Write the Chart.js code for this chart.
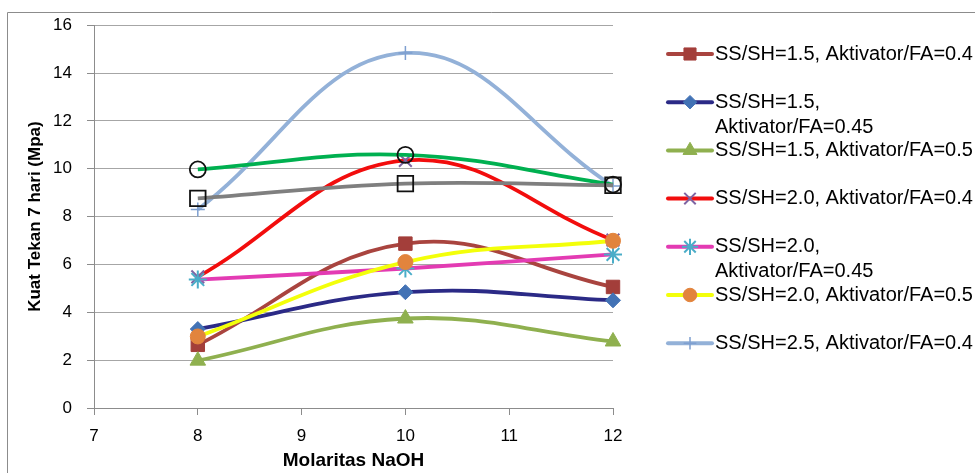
<!DOCTYPE html>
<html>
<head>
<meta charset="utf-8">
<title>Kuat Tekan 7 hari</title>
<script src="https://cdn.jsdelivr.net/npm/chart.js@4.4.0/dist/chart.umd.min.js"></script>
<style>
  body { margin: 0; background: #fff; }
  canvas { display: block; }
</style>
</head>
<body>
<canvas id="chart" width="975" height="473"></canvas>
<script>
"use strict";

// DATA

const molaritas = [8, 10, 12];
const xTicks = [7, 8, 9, 10, 11, 12];
const yTicks = [0, 2, 4, 6, 8, 10, 12, 14, 16];

const ss15_a040 = [2.64, 6.87, 5.06];
const ss15_a045 = [3.30, 4.84, 4.50];
const ss15_a050 = [1.98, 3.74, 2.78];
const ss20_a040 = [5.48, 10.35, 7.02];
const ss20_a045 = [5.37, 5.83, 6.42];
const ss20_a050 = [2.99, 6.10, 6.99];
const ss25_a040 = [8.30, 14.84, 9.28];
const extraGreen = [9.97, 10.58, 9.34];   // no legend entry
const extraGray = [8.76, 9.38, 9.31];     // no legend entry

const seriesNames = [
    ["SS/SH=1.5, Aktivator/FA=0.4"],
    ["SS/SH=1.5,", "Aktivator/FA=0.45"],
    ["SS/SH=1.5, Aktivator/FA=0.5"],
    ["SS/SH=2.0, Aktivator/FA=0.4"],
    ["SS/SH=2.0,", "Aktivator/FA=0.45"],
    ["SS/SH=2.0, Aktivator/FA=0.5"],
    ["SS/SH=2.5, Aktivator/FA=0.4"]
];

const FONT = "'Liberation Sans', Arial, sans-serif";

// DATASETS

let idx = 0;
const makeSet = (name, values, color, marker) => {
    const i = idx++;
    return {
        label: name ? name.join(" ") : "",
        legendLines: name,
        data: molaritas.map((m, k) => ({ x: m, y: values[k] })),
        borderColor: color,
        backgroundColor: color,
        borderWidth: 3.8,
        tension: 0.4,
        clip: false,
        order: 100 - i, // later series on top, like the original
        pointStyle: marker.style,
        pointRadius: marker.radius,
        pointBackgroundColor: marker.fill,
        pointBorderColor: marker.stroke,
        pointBorderWidth: marker.width
    };
};

const datasets = [
    makeSet(seriesNames[0], ss15_a040, "#A9443F", { style: "rect", radius: 9.5, fill: "#A33E3A", stroke: "#A33E3A", width: 1 }),
    makeSet(seriesNames[1], ss15_a045, "#2B2A86", { style: "rectRot", radius: 7.5, fill: "#4272B5", stroke: "#4272B5", width: 1 }),
    makeSet(seriesNames[2], ss15_a050, "#8FB04F", { style: "triangle", radius: 9, fill: "#8FB04F", stroke: "#8FB04F", width: 1 }),
    makeSet(seriesNames[3], ss20_a040, "#F20D0D", { style: "crossRot", radius: 9, fill: "#7E64A3", stroke: "#7E64A3", width: 2 }),
    makeSet(seriesNames[4], ss20_a045, "#E33BB3", { style: "star", radius: 9, fill: "#4AADC8", stroke: "#4AADC8", width: 2 }),
    makeSet(seriesNames[5], ss20_a050, "#F3FF0A", { style: "circle", radius: 7.5, fill: "#E2843D", stroke: "#E2843D", width: 1 }),
    makeSet(seriesNames[6], ss25_a040, "#93B1D8", { style: "cross", radius: 7, fill: "#7E9FD0", stroke: "#7E9FD0", width: 1.5 }),
    makeSet(null, extraGreen, "#00B050", { style: "circle", radius: 8, fill: "rgba(0,0,0,0)", stroke: "#111", width: 1.8 }),
    makeSet(null, extraGray, "#7F7F7F", { style: "rect", radius: 11, fill: "rgba(0,0,0,0)", stroke: "#111", width: 1.8 })
];

// PLUGINS

const frame = {
    id: "frame",
    beforeDraw(chart) {
        const ctx = chart.ctx;
        ctx.save();
        ctx.strokeStyle = "#8C8C8C";
        ctx.lineWidth = 1;
        ctx.beginPath();
        ctx.moveTo(7.5, chart.height);
        ctx.lineTo(7.5, 12.5);
        ctx.lineTo(chart.width, 12.5);
        ctx.stroke();
        ctx.restore();
    }
};

const sideLegend = {
    id: "sideLegend",
    afterDraw(chart) {
        const ctx = chart.ctx;
        let row = 0;
        chart.data.datasets.forEach(ds => {
            if (!ds.legendLines) return;
            const y = 54 + row * 48.2;
            ctx.save();
            ctx.strokeStyle = ds.borderColor;
            ctx.lineWidth = 4;
            ctx.lineCap = "round";
            ctx.beginPath();
            ctx.moveTo(668, y);
            ctx.lineTo(712, y);
            ctx.stroke();

            ctx.lineCap = "butt";
            ctx.fillStyle = ds.pointBackgroundColor;
            ctx.strokeStyle = ds.pointBorderColor;
            ctx.lineWidth = ds.pointBorderWidth;
            Chart.helpers.drawPoint(ctx, {
                pointStyle: ds.pointStyle,
                radius: ds.pointRadius * 0.9,
                borderWidth: ds.pointBorderWidth,
                rotation: 0
            }, 690, y);

            ctx.fillStyle = "#000";
            ctx.font = "20px " + FONT;
            ctx.textAlign = "left";
            ctx.textBaseline = "middle";
            ds.legendLines.forEach((t, k) => ctx.fillText(t, 715, y + k * 25));
            ctx.restore();
            row++;
        });
    }
};

// CHART

Chart.defaults.font.family = FONT;
Chart.defaults.color = "#000";

const ctx = document.getElementById("chart").getContext("2d");

const myChart = new Chart(ctx, {
    type: "line",
    data: { datasets: datasets },
    options: {
        responsive: false,
        animation: false,
        devicePixelRatio: 1,
        layout: {
            padding: { left: 0, top: 25, right: 362, bottom: 0 }
        },
        plugins: {
            legend: { display: false },
            tooltip: { enabled: false }
        },
        scales: {
            x: {
                type: "linear",
                min: xTicks[0],
                max: xTicks[xTicks.length - 1],
                afterBuildTicks: axis => { axis.ticks = xTicks.map(v => ({ value: v })); },
                afterFit: axis => { axis.height = 65; },
                grid: {
                    drawOnChartArea: false,
                    drawTicks: true,
                    tickLength: 7,
                    tickColor: "#8C8C8C"
                },
                border: { color: "#8C8C8C", width: 1 },
                ticks: {
                    padding: 11,
                    font: { size: 17 },
                    maxRotation: 0
                },
                title: {
                    display: true,
                    text: "Molaritas NaOH",
                    font: { size: 19, weight: "bold" },
                    padding: { top: 0, bottom: 1 }
                }
            },
            y: {
                min: yTicks[0],
                max: yTicks[yTicks.length - 1],
                afterBuildTicks: axis => { axis.ticks = yTicks.map(v => ({ value: v })); },
                afterFit: axis => { axis.width = 94; },
                grid: {
                    color: "#A6A6A6",
                    lineWidth: 1,
                    drawTicks: true,
                    tickLength: 7,
                    tickColor: "#8C8C8C"
                },
                border: { color: "#8C8C8C", width: 1 },
                ticks: {
                    padding: 15,
                    font: { size: 17 }
                },
                title: {
                    display: true,
                    text: "Kuat Tekan 7 hari (Mpa)",
                    font: { size: 17, weight: "bold" },
                    padding: { top: 25, bottom: 0 }
                }
            }
        }
    },
    plugins: [frame, sideLegend]
});
</script>
</body>
</html>
